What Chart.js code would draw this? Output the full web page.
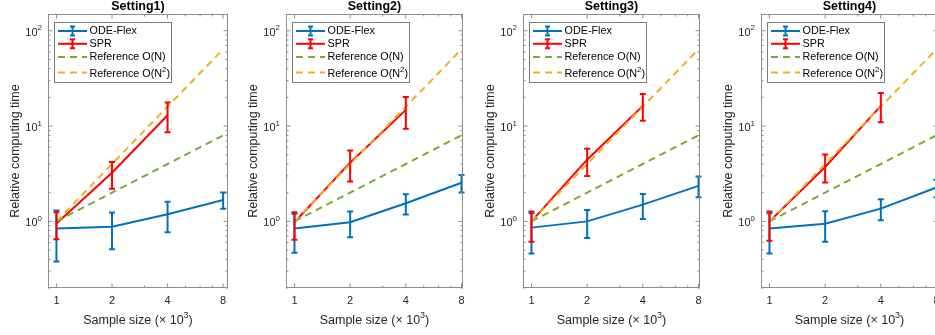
<!DOCTYPE html>
<html>
<head>
<meta charset="utf-8">
<script src="https://cdn.jsdelivr.net/npm/chart.js@4/dist/chart.umd.min.js"></script>
<style>
    html, body { margin: 0; padding: 0; background: #fff; overflow: hidden; }
    #fig { position: relative; width: 935px; height: 335px; overflow: hidden; }
    #fig canvas { position: absolute; top: 0; }
</style>
</head>
<body>
<div id="fig">
    <canvas id="c1" width="238" height="335" style="left:0px;width:238px;height:335px"></canvas>
    <canvas id="c2" width="238" height="335" style="left:238px;width:238px;height:335px"></canvas>
    <canvas id="c3" width="238" height="335" style="left:475px;width:238px;height:335px"></canvas>
    <canvas id="c4" width="238" height="335" style="left:713px;width:238px;height:335px"></canvas>
</div>
<script>
const FONT   = "'Liberation Sans', Arial, Helvetica, sans-serif";
const BLUE   = '#0072BD';
const RED    = '#FF0000';
const GREEN  = '#77AC30';
const ORANGE = '#EDB120';
const AXIS   = '#8c8c8c';
const TEXT   = '#262626';

// Tailles d'échantillon (x 10^3) et références
const sampleSizes = [1, 2, 4, 8];
const sprSizes    = [1, 2, 4];
const refLinear   = [1, 2, 4, 8];
const refQuad     = [1, 4, 16, 64];

// Graduations
const xTicks      = [1, 2, 4, 8];
const xMinorTicks = [3, 5, 6, 7];
const yTicks      = [1, 10, 100];
const yTickLabels = ['10⁰', '10¹', '10²'];
const yMinorTicks = [0.2, 0.3, 0.4, 0.5, 0.6, 0.7, 0.8, 0.9, 2, 3, 4, 5, 6, 7, 8, 9, 20, 30, 40, 50, 60, 70, 80, 90];

const titles = ['Setting1)', 'Setting2)', 'Setting3)', 'Setting4)'];
const xLabel = 'Sample size (× 10³)';
const yLabel = 'Relative computing time';

// Setting 1
const odeMean1 = [0.84, 0.88, 1.19, 1.68];
const odeLow1  = [0.38, 0.51, 0.77, 1.36];
const odeHigh1 = [1.30, 1.24, 1.61, 2.01];
const sprMean1 = [0.95, 3.24, 13.0];
const sprLow1  = [0.65, 2.20, 8.6];
const sprHigh1 = [1.25, 4.20, 17.7];

// Setting 2
const odeMean2 = [0.84, 0.98, 1.55, 2.54];
const odeLow2  = [0.47, 0.68, 1.18, 2.01];
const odeHigh2 = [1.20, 1.27, 1.93, 3.06];
const sprMean2 = [0.98, 4.13, 14.8];
const sprLow2  = [0.64, 2.62, 9.4];
const sprHigh2 = [1.25, 5.53, 20.2];

// Setting 3
const odeMean3 = [0.86, 1.00, 1.50, 2.36];
const odeLow3  = [0.46, 0.67, 1.06, 1.79];
const odeHigh3 = [1.22, 1.32, 1.94, 2.96];
const sprMean3 = [1.00, 4.44, 16.3];
const sprLow3  = [0.61, 3.00, 11.4];
const sprHigh3 = [1.27, 5.77, 21.7];

// Setting 4
const odeMean4 = [0.84, 0.945, 1.36, 2.27];
const odeLow4  = [0.46, 0.61, 1.03, 1.79];
const odeHigh4 = [1.22, 1.28, 1.71, 2.73];
const sprMean4 = [1.00, 3.72, 16.3];
const sprLow4  = [0.625, 2.56, 11.0];
const sprHigh4 = [1.27, 5.02, 22.2];

// Texte avec exposants (façon TeX de MATLAB)
const SUP = { '⁰': '0', '¹': '1', '²': '2', '³': '3' };
function drawSupText(ctx, text, x, y, size, align) {
    const parts = [];
    for (const ch of text) {
        const sup  = ch in SUP;
        const c    = sup ? SUP[ch] : ch;
        const last = parts[parts.length - 1];
        if (last && last.sup === sup) last.t += c; else parts.push({ t: c, sup });
    }
    let w = 0;
    parts.forEach(p => {
        ctx.font = (p.sup ? size * 0.72 : size) + 'px ' + FONT;
        p.w = ctx.measureText(p.t).width;
        w += p.w;
    });
    let cx = align === 'right' ? x - w : align === 'center' ? x - w / 2 : x;
    ctx.textAlign    = 'left';
    ctx.textBaseline = 'middle';
    parts.forEach(p => {
        ctx.font = (p.sup ? size * 0.72 : size) + 'px ' + FONT;
        ctx.fillText(p.t, cx, p.sup ? y - size * 0.42 : y);
        cx += p.w;
    });
}

// Barres d'erreur
const errorBarPlugin = {
    id: 'errorBars',
    afterDatasetsDraw(chart) {
        const { ctx, scales: { x, y } } = chart;
        ctx.save();
        chart.data.datasets.forEach(ds => {
            if (!ds.errLow) return;
            ctx.strokeStyle = ds.borderColor;
            ctx.lineWidth   = 2;
            ds.data.forEach((p, i) => {
                const px = x.getPixelForValue(p.x);
                const y1 = y.getPixelForValue(ds.errLow[i]);
                const y2 = y.getPixelForValue(ds.errHigh[i]);
                ctx.beginPath();
                ctx.moveTo(px, y1); ctx.lineTo(px, y2);
                ctx.moveTo(px - 3, y1); ctx.lineTo(px + 3, y1);
                ctx.moveTo(px - 3, y2); ctx.lineTo(px + 3, y2);
                ctx.stroke();
            });
        });
        ctx.restore();
    }
};

// Cadre type MATLAB : boîte, graduations internes, labels, titre, légende
const matlabPlugin = {
    id: 'matlabBox',
    afterDraw(chart, args, opts) {
        const { ctx, chartArea: a, scales: { x, y } } = chart;
        ctx.save();
        ctx.strokeStyle = AXIS;
        ctx.lineWidth   = 1;
        ctx.strokeRect(a.left + 0.5, a.top + 0.5, a.right - a.left - 1, a.bottom - a.top - 1);

        ctx.beginPath();
        const yTick = (v, len) => {
            const py = y.getPixelForValue(v);
            ctx.moveTo(a.left, py);  ctx.lineTo(a.left + len, py);
            ctx.moveTo(a.right, py); ctx.lineTo(a.right - len, py);
        };
        const xTick = (v, len) => {
            const px = x.getPixelForValue(v);
            ctx.moveTo(px, a.bottom); ctx.lineTo(px, a.bottom - len);
            ctx.moveTo(px, a.top);    ctx.lineTo(px, a.top + len);
        };
        yTicks.forEach(v => yTick(v, 4.5));
        yMinorTicks.forEach(v => yTick(v, 2.5));
        xTicks.forEach(v => xTick(v, 4.5));
        xMinorTicks.forEach(v => xTick(v, 2.5));
        ctx.stroke();

        // labels de l'axe y (10^n) et titre de l'axe x
        ctx.fillStyle = TEXT;
        yTicks.forEach((v, i) => {
            drawSupText(ctx, yTickLabels[i], a.left - 6, y.getPixelForValue(v) + 2, 11, 'right');
        });
        drawSupText(ctx, xLabel, (a.left + a.right) / 2, 321, 12.5, 'center');

        // titre
        ctx.fillStyle    = '#000';
        ctx.font         = 'bold 12.5px ' + FONT;
        ctx.textAlign    = 'center';
        ctx.textBaseline = 'middle';
        ctx.fillText(opts.title, (a.left + a.right) / 2, 7);

        // légende
        const bx = a.left + 6, by = a.top + 8, bw = 117, bh = 60;
        ctx.fillStyle   = '#fff';
        ctx.fillRect(bx, by, bw, bh);
        ctx.strokeStyle = '#7a7a7a';
        ctx.strokeRect(bx + 0.5, by + 0.5, bw, bh);
        const rows = [9, 21.8, 35, 50.5];
        chart.data.datasets.forEach((ds, i) => {
            const ly = by + rows[i];
            ctx.strokeStyle = ds.borderColor;
            ctx.lineWidth   = 2;
            ctx.setLineDash(ds.borderDash || []);
            ctx.beginPath();
            ctx.moveTo(bx + 4, ly); ctx.lineTo(bx + 33, ly);
            ctx.stroke();
            ctx.setLineDash([]);
            if (ds.errLow) {
                const cx = bx + 18.5;
                ctx.beginPath();
                ctx.moveTo(cx, ly - 4.5); ctx.lineTo(cx, ly + 4.5);
                ctx.moveTo(cx - 2.5, ly - 4.5); ctx.lineTo(cx + 2.5, ly - 4.5);
                ctx.moveTo(cx - 2.5, ly + 4.5); ctx.lineTo(cx + 2.5, ly + 4.5);
                ctx.stroke();
            }
            ctx.fillStyle = '#000';
            drawSupText(ctx, ds.label, bx + 35.5, ds.label.includes('²') ? ly + 1.5 : ly, 10.8, 'left');
        });
        ctx.restore();
    }
};

function pts(xs, ys) {
    return xs.map((v, i) => ({ x: v, y: ys[i] }));
}

function makeChart(canvasId, title, ode, odeLo, odeHi, spr, sprLo, sprHi, plotWidth, xMax) {
    return new Chart(document.getElementById(canvasId).getContext('2d'), {
        type: 'line',
        data: {
            datasets: [
                { label: 'ODE-Flex', data: pts(sampleSizes, ode), errLow: odeLo, errHigh: odeHi,
                  borderColor: BLUE, borderWidth: 2, pointRadius: 0, order: 4 },
                { label: 'SPR', data: pts(sprSizes, spr), errLow: sprLo, errHigh: sprHi,
                  borderColor: RED, borderWidth: 2, pointRadius: 0, order: 3 },
                { label: 'Reference O(N)', data: pts(sampleSizes, refLinear),
                  borderColor: GREEN, borderWidth: 2, borderDash: [7, 5], pointRadius: 0, order: 2 },
                { label: 'Reference O(N²)', data: pts(sampleSizes, refQuad),
                  borderColor: ORANGE, borderWidth: 2, borderDash: [7, 5], pointRadius: 0, order: 1 }
            ]
        },
        options: {
            responsive: false,
            animation: false,
            layout: { padding: { top: 14, right: 238 - 48 - plotWidth, bottom: 0, left: 0 } },
            plugins: {
                legend:  { display: false },
                tooltip: { enabled: false },
                matlabBox: { title }
            },
            scales: {
                x: {
                    type: 'logarithmic',
                    min: 0.9,
                    max: xMax,
                    grid:   { display: false, drawTicks: false },
                    border: { display: false },
                    afterBuildTicks: s => { s.ticks = xTicks.map(v => ({ value: v })); },
                    afterFit: s => { s.height = 47; },
                    ticks: { autoSkip: false, maxRotation: 0, padding: 6, color: TEXT,
                             font: { family: FONT, size: 11 }, callback: v => String(v) },
                    title: { display: false, text: xLabel }
                },
                y: {
                    type: 'logarithmic',
                    min: 0.2,
                    max: 150,
                    grid:   { display: false, drawTicks: false },
                    border: { display: false },
                    afterBuildTicks: s => { s.ticks = yTicks.map(v => ({ value: v })); },
                    afterFit: s => { s.width = 48; },
                    ticks: { display: false },
                    title: { display: true, text: yLabel, color: TEXT,
                             font: { family: FONT, size: 12.5 }, padding: { top: 7.8, bottom: 0 } }
                }
            }
        },
        plugins: [errorBarPlugin, matlabPlugin]
    });
}

makeChart('c1', titles[0], odeMean1, odeLow1, odeHigh1, sprMean1, sprLow1, sprHigh1, 180, 8.5);
makeChart('c2', titles[1], odeMean2, odeLow2, odeHigh2, sprMean2, sprLow2, sprHigh2, 177, 8.15);
makeChart('c3', titles[2], odeMean3, odeLow3, odeHigh3, sprMean3, sprLow3, sprHigh3, 177, 8.15);
makeChart('c4', titles[3], odeMean4, odeLow4, odeHigh4, sprMean4, sprLow4, sprHigh4, 177, 8.15);
</script>
</body>
</html>
